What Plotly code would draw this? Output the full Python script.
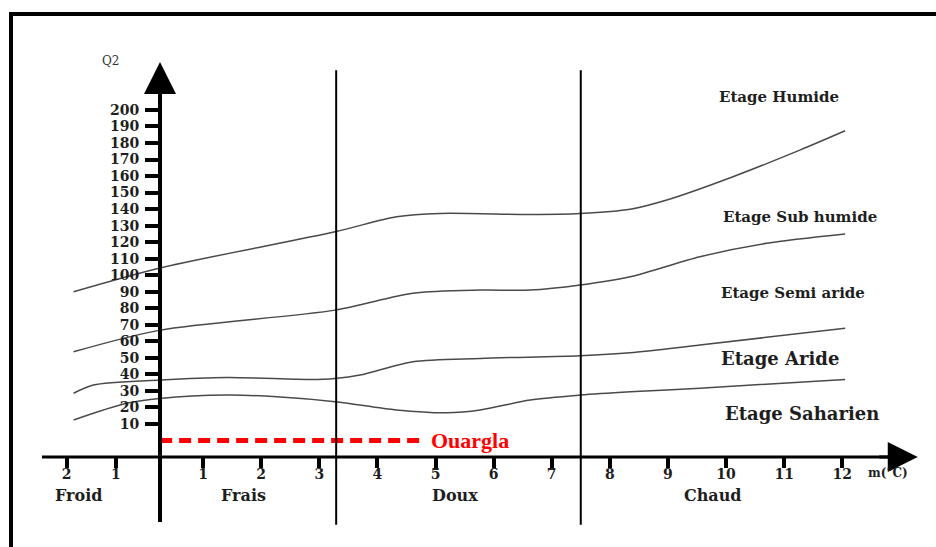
import plotly.graph_objects as go

# ---------------- data ----------------
# Emberger climagram boundary curves (m in °C, Q2)
curve1_x = [-1.23, 0.26, 3.27, 4.33, 5.08, 6.63, 7.49, 8.35, 8.98, 10.12, 11.27, 12.05]
curve1_y = [90.0, 104.4, 126.3, 135.4, 137.4, 136.8, 137.4, 139.9, 145.5, 159.6, 175.7, 187.4]

curve2_x = [-1.23, 0.26, 3.27, 4.61, 5.77, 6.63, 7.49, 8.35, 9.55, 10.70, 12.05]
curve2_y = [53.7, 66.8, 78.9, 89.1, 91.0, 91.0, 94.1, 99.1, 111.2, 119.3, 124.9]

curve3_x = [-1.23, -0.89, 0.26, 1.41, 2.84, 3.27, 3.70, 4.61, 5.77, 7.49, 8.35, 9.55, 12.05]
curve3_y = [28.6, 33.6, 36.6, 38.2, 37.0, 37.6, 39.6, 47.7, 49.7, 51.3, 53.1, 57.8, 67.9]

curve4_x = [-1.23, -0.32, 0.26, 1.41, 2.27, 3.27, 4.33, 5.19, 5.77, 6.63, 7.49, 8.35, 9.55, 12.05]
curve4_y = [12.4, 22.5, 25.5, 27.5, 26.5, 23.5, 18.5, 16.8, 18.5, 24.5, 27.5, 29.5, 31.6, 37.0]

# Ouargla station
ouargla_x = [0.26, 4.82]
ouargla_y = [0.0, 0.0]
ouargla_name = "Ouargla"

# axis ticks
x_tick_pos = [-1.35, -0.5, 1, 2, 3, 4, 5, 6, 7, 8, 9, 10, 11, 12]
x_tick_text = ["2", "1", "1", "2", "3", "4", "5", "6", "7", "8", "9", "10", "11", "12"]
y_tick_vals = list(range(10, 201, 10))
y_tick_text = [str(v) for v in y_tick_vals]

# winter-temperature zones
zone_names = ["Froid", "Frais", "Doux", "Chaud"]
zone_x = [-1.15, 1.69, 5.33, 9.78]
zone_bounds = [3.29, 7.5]

# bioclimatic stages
stage_names = ["Etage Humide", "Etage Sub humide", "Etage Semi aride", "Etage Aride", "Etage Saharien"]
stage_x = [10.91, 11.27, 11.15, 10.93, 11.31]
stage_y = [208.0, 135.0, 89.0, 49.5, 16.5]
stage_size = [15, 15, 15, 18, 18]

# ---------------- figure ----------------
W, H = 936, 547
X0, X1 = -2.496, 13.614
Y0, Y1 = -64.4, 266.5
XAXIS_Y = -10.0
YAXIS_X = 0.258

serif = "DejaVu Serif"
times = "Liberation Serif"
ink = "#1e1e1e"
fig = go.Figure()

line_style = dict(color="#4a4a4a", width=1.5, shape="spline", smoothing=0.8)
for cx, cy in [(curve1_x, curve1_y), (curve2_x, curve2_y), (curve3_x, curve3_y), (curve4_x, curve4_y)]:
    fig.add_trace(go.Scatter(x=cx, y=cy, mode="lines", line=line_style,
                             hoverinfo="skip", showlegend=False))

fig.add_trace(go.Scatter(x=ouargla_x, y=ouargla_y, mode="lines",
                         line=dict(color="#ff0000", width=5, dash="12px,7px"),
                         hoverinfo="skip", showlegend=False))

shapes = []
# axis lines
shapes.append(dict(type="line", xref="x", yref="y", x0=-1.773, x1=13.0,
                   y0=XAXIS_Y, y1=XAXIS_Y, line=dict(color="black", width=3)))
shapes.append(dict(type="line", xref="x", yref="y", x0=YAXIS_X, x1=YAXIS_X,
                   y0=-49.3, y1=215, line=dict(color="black", width=4)))
# zone boundaries
for b in zone_bounds:
    shapes.append(dict(type="line", xref="x", yref="y", x0=b, x1=b, y0=-51.0, y1=224.0,
                       line=dict(color="black", width=2)))
# frame
shapes.append(dict(type="line", xref="paper", yref="paper", x0=9/W, x1=1,
                   y0=1-14/H, y1=1-14/H, line=dict(color="black", width=4)))
shapes.append(dict(type="line", xref="paper", yref="paper", x0=11/W, x1=11/W,
                   y0=0, y1=1-12/H, line=dict(color="black", width=4)))

annotations = []
# arrows
annotations.append(dict(x=13.30, y=XAXIS_Y, xref="x", yref="y", text="", showarrow=True,
                        ax=-40, ay=0, arrowhead=2, arrowsize=2.0, arrowwidth=3,
                        arrowcolor="black", standoff=0))
annotations.append(dict(x=YAXIS_X, y=229, xref="x", yref="y", text="", showarrow=True,
                        ax=0, ay=40, arrowhead=2, arrowsize=1.6, arrowwidth=4,
                        arrowcolor="black", standoff=0))
# axis titles
annotations.append(dict(x=-0.6, y=229.5, xref="x", yref="y", text="Q2", showarrow=False,
                        font=dict(family=serif, size=12, color="#333")))
annotations.append(dict(x=12.78, y=XAXIS_Y - 9.8, xref="x", yref="y", text="m(°C)",
                        showarrow=False, xanchor="center",
                        font=dict(family=serif, size=12, color=ink, weight="bold")))
# zones
for name, zx in zip(zone_names, zone_x):
    annotations.append(dict(x=zx, y=-33.0, xref="x", yref="y", text=name, showarrow=False,
                            font=dict(family=serif, size=16, color=ink, weight="bold")))
# stages
for name, sx, sy, ss in zip(stage_names, stage_x, stage_y, stage_size):
    annotations.append(dict(x=sx, y=sy, xref="x", yref="y", text=name, showarrow=False,
                            font=dict(family=serif, size=ss, color=ink, weight="bold")))
# Ouargla label
annotations.append(dict(x=ouargla_x[-1] + 0.06, y=ouargla_y[-1], xref="x", yref="y",
                        text=ouargla_name, showarrow=False, xanchor="left",
                        font=dict(family=times, size=22, color="#ff0000", weight="bold")))

fig.update_layout(
    width=W, height=H,
    margin=dict(l=0, r=0, t=0, b=0),
    paper_bgcolor="white", plot_bgcolor="white",
    showlegend=False, hovermode=False,
    shapes=shapes, annotations=annotations,
    xaxis=dict(range=[X0, X1], domain=[0, 1], anchor="free",
               position=(H - 457) / H,
               showgrid=False, zeroline=False, showline=False,
               ticks="outside", ticklen=10, tickwidth=4, tickcolor="black",
               tickvals=x_tick_pos, ticktext=x_tick_text, ticklabelstandoff=-6,
               tickfont=dict(family=serif, size=14, color=ink, weight="bold"),
               fixedrange=True),
    yaxis=dict(range=[Y0, Y1], domain=[0, 1], anchor="free",
               position=160 / W,
               showgrid=False, zeroline=False, showline=False,
               ticks="outside", ticklen=15, tickwidth=4, tickcolor="black",
               tickvals=y_tick_vals, ticktext=y_tick_text, ticklabelstandoff=3,
               tickfont=dict(family=serif, size=14, color=ink, weight="bold"),
               fixedrange=True),
)

fig.write_html("out.html", config={"displayModeBar": False},
               post_script="document.body.style.margin='0px';")
